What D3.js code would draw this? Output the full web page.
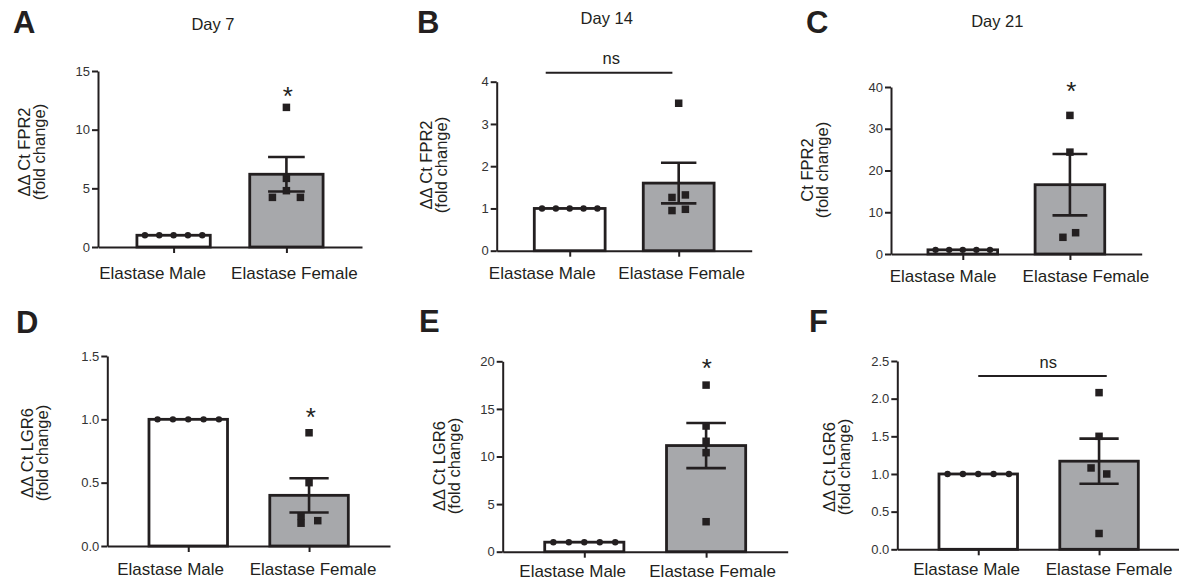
<!DOCTYPE html>
<html>
<head>
<meta charset="utf-8">
<script src="https://cdn.jsdelivr.net/npm/d3@7"></script>
<style>
  body { margin: 0; background: #fff; }
  svg { display: block; font-family: "Liberation Sans", Arial, sans-serif; }
</style>
</head>
<body>
<div id="app"></div>
<script>
// ---- data ----
const categories = ["Elastase Male", "Elastase Female"];
const panelLetters = ["A", "B", "C", "D", "E", "F"];
const titles = ["Day 7", "Day 14", "Day 21", "", "", ""];
const yLabels = [
  ["ΔΔ Ct FPR2", "(fold change)"],
  ["ΔΔ Ct FPR2", "(fold change)"],
  ["Ct FPR2", "(fold change)"],
  ["ΔΔ Ct LGR6", "(fold change)"],
  ["ΔΔ Ct LGR6", "(fold change)"],
  ["ΔΔ Ct LGR6", "(fold change)"]
];
const yMax = [15, 4, 40, 1.5, 20, 2.5];
const yTicks = [
  [0, 5, 10, 15],
  [0, 1, 2, 3, 4],
  [0, 10, 20, 30, 40],
  [0, 0.5, 1.0, 1.5],
  [0, 5, 10, 15, 20],
  [0, 0.5, 1.0, 1.5, 2.0, 2.5]
];
const yFormats = ["d", "d", "d", ".1f", "d", ".1f"];

const maleMeans = [1, 1, 1, 1, 1, 1];
const maleValues = [
  [1, 1, 1, 1, 1],
  [1, 1, 1, 1, 1],
  [1, 1, 1, 1, 1],
  [1, 1, 1, 1, 1],
  [1, 1, 1, 1, 1],
  [1, 1, 1, 1, 1]
];
const femaleMeans = [6.2, 1.6, 16.6, 0.40, 11.15, 1.17];
const femaleSem = [1.47, 0.48, 7.35, 0.135, 2.37, 0.30];
const femaleValues = [
  [11.9, 5.85, 4.8, 4.23, 4.23],
  [3.49, 1.26, 1.32, 0.95, 0.98],
  [33.2, 24.4, 4.0, 5.1],
  [0.894, 0.50, 0.234, 0.18, 0.20],
  [17.5, 13.2, 11.6, 10.4, 3.15],
  [2.08, 1.50, 1.08, 1.00, 0.21]
];
const significance = ["*", "ns", "*", "*", "*", "ns"];
const signifLevel = [13.4, 4.21, 40.5, 1.07, 19.96, 2.30]; // y value where the mark sits

// ---- layout (pixels) ----
const layout = [
  { x0: 98, x1: 362, yTop: 71, yBot: 247, letter: [14, 33], title: [213, 30],
    yLab: [30, 152], catDy: 32, catDx: [-21, 8], jitter: [0, 0, 0, -14, 14], ann: { dx: 1.5 } },
  { x0: 496.7, x1: 751.7, yTop: 81.7, yBot: 250.7, letter: [418, 33], title: [606.7, 23.5],
    yLab: [431.7, 165], catDy: 28.6, catDx: [-27.5, 3], jitter: [0, -6.7, 6.7, -6.7, 6.7],
    ann: { from: -24, to: -6.3, textX: 611.3 } },
  { x0: 891, x1: 1141.7, yTop: 87, yBot: 254, letter: [807, 33], title: [997.3, 27],
    yLab: [813, 170], catDy: 27.7, catDx: [-19.7, 16], jitter: [0, 0, -7, 5.7], ann: { dx: 1.3 } },
  { x0: 107.3, x1: 390, yTop: 356, yBot: 546, letter: [17, 333], title: null,
    yLab: [33.3, 453], catDy: 29, catDx: [-17.6, 4], jitter: [0, 0, -8, -8, 8.7], ann: { dx: 1.7 } },
  { x0: 502.7, x1: 787.7, yTop: 361.3, yBot: 551.7, letter: [420, 332], title: null,
    yLab: [445, 466], catDy: 25.6, catDx: [-11.6, 6.5], jitter: [0, 0, 0, 0, 0], ann: { dx: 0.7 } },
  { x0: 897.3, x1: 1180, yTop: 361, yBot: 549.3, letter: [810, 332], title: null,
    yLab: [835, 467], catDy: 25.7, catDx: [-11.6, 10], jitter: [0, 0, -8, 7.7, 0],
    ann: { from: 0, to: 7.7, textX: 1048.3 } }
];

const ink = "#231f20";
const grey = "#a7a8ab";

const svg = d3.select("#app").append("svg")
  .attr("width", 1179)
  .attr("height", 582);

layout.forEach((p, i) => {
  const g = svg.append("g").attr("class", "panel");

  const x = d3.scalePoint().domain(categories).range([p.x0, p.x1]).padding(0.67);
  const step = x.step();
  const bw = step * 0.65;
  const y = d3.scaleLinear().domain([0, yMax[i]]).range([p.yBot, p.yTop]);

  // bars
  const means = [maleMeans[i], femaleMeans[i]];
  g.selectAll("rect.bar")
    .data(categories)
    .join("rect")
    .attr("class", "bar")
    .attr("x", (d) => x(d) - bw / 2)
    .attr("y", (d, k) => y(means[k]))
    .attr("width", bw)
    .attr("height", (d, k) => p.yBot - y(means[k]))
    .attr("fill", (d, k) => (k === 0 ? "#fff" : grey))
    .attr("stroke", ink)
    .attr("stroke-width", 2.8);

  // error bar (female, mean ± SEM)
  const cx = x(categories[1]);
  const hi = y(femaleMeans[i] + femaleSem[i]);
  const lo = y(femaleMeans[i] - femaleSem[i]);
  const cap = bw * 0.25;
  const eg = g.append("g").attr("stroke", ink).attr("stroke-width", 2.6);
  eg.append("line").attr("x1", cx).attr("x2", cx).attr("y1", lo).attr("y2", hi);
  eg.append("line").attr("x1", cx - cap).attr("x2", cx + cap).attr("y1", hi).attr("y2", hi);
  eg.append("line").attr("x1", cx - cap).attr("x2", cx + cap).attr("y1", lo).attr("y2", lo);

  // axes
  const yAxis = g.append("g")
    .attr("transform", `translate(${p.x0},0)`)
    .call(d3.axisLeft(y).tickValues(yTicks[i]).tickSize(6).tickSizeOuter(0)
      .tickPadding(2).tickFormat(d3.format(yFormats[i])));
  const xAxis = g.append("g")
    .attr("transform", `translate(0,${p.yBot})`)
    .call(d3.axisBottom(x).tickSize(6).tickSizeOuter(0).tickFormat(""));
  [yAxis, xAxis].forEach((a) => {
    a.selectAll("path, line").attr("stroke", ink).attr("stroke-width", 2);
  });
  yAxis.selectAll("text").attr("font-size", 13).attr("fill", "#333").attr("font-family", null);

  // male points (circles)
  const mstep = step * 0.127;
  g.selectAll("circle.male")
    .data(maleValues[i])
    .join("circle")
    .attr("class", "male")
    .attr("cx", (d, j) => x(categories[0]) + (j - 2) * mstep)
    .attr("cy", (d) => y(d))
    .attr("r", 3.2)
    .attr("fill", ink);

  // female points (squares)
  const s = 7.5;
  g.selectAll("rect.female")
    .data(femaleValues[i])
    .join("rect")
    .attr("class", "female")
    .attr("x", (d, j) => cx + p.jitter[j] - s / 2)
    .attr("y", (d) => y(d) - s / 2)
    .attr("width", s)
    .attr("height", s)
    .attr("fill", ink);

  // category labels
  g.selectAll("text.cat")
    .data(categories)
    .join("text")
    .attr("class", "cat")
    .attr("x", (d, k) => x(d) + p.catDx[k])
    .attr("y", p.yBot + p.catDy)
    .attr("text-anchor", "middle")
    .attr("font-size", 17)
    .attr("fill", ink)
    .text((d) => d);

  // y label (two rotated lines)
  yLabels[i].forEach((t, k) => {
    g.append("text")
      .attr("transform", `translate(${p.yLab[0] + k * 14.8},${p.yLab[1]}) rotate(-90)`)
      .attr("text-anchor", "middle")
      .attr("font-size", 16.5)
      .attr("fill", ink)
      .text(t);
  });

  // panel letter
  g.append("text")
    .attr("x", p.letter[0] - 1)
    .attr("y", p.letter[1])
    .attr("font-size", 31)
    .attr("font-weight", "bold")
    .attr("fill", ink)
    .text(panelLetters[i]);

  if (p.title) {
    g.append("text")
      .attr("x", p.title[0])
      .attr("y", p.title[1])
      .attr("text-anchor", "middle")
      .attr("font-size", 16.5)
      .attr("fill", ink)
      .text(titles[i]);
  }

  // significance marks
  if (significance[i] === "ns") {
    const ly = y(signifLevel[i]);
    g.append("line")
      .attr("x1", x(categories[0]) + p.ann.from)
      .attr("x2", x(categories[1]) + p.ann.to)
      .attr("y1", ly).attr("y2", ly)
      .attr("stroke", ink).attr("stroke-width", 2);
    g.append("text")
      .attr("x", p.ann.textX)
      .attr("y", ly - 8.5)
      .attr("text-anchor", "middle")
      .attr("font-size", 16.5)
      .attr("fill", ink)
      .text("ns");
  } else {
    g.append("text")
      .attr("x", cx + p.ann.dx)
      .attr("y", y(signifLevel[i]))
      .attr("dy", "0.58em")
      .attr("text-anchor", "middle")
      .attr("font-size", 26)
      .attr("fill", ink)
      .text(significance[i]);
  }
});
</script>
</body>
</html>
